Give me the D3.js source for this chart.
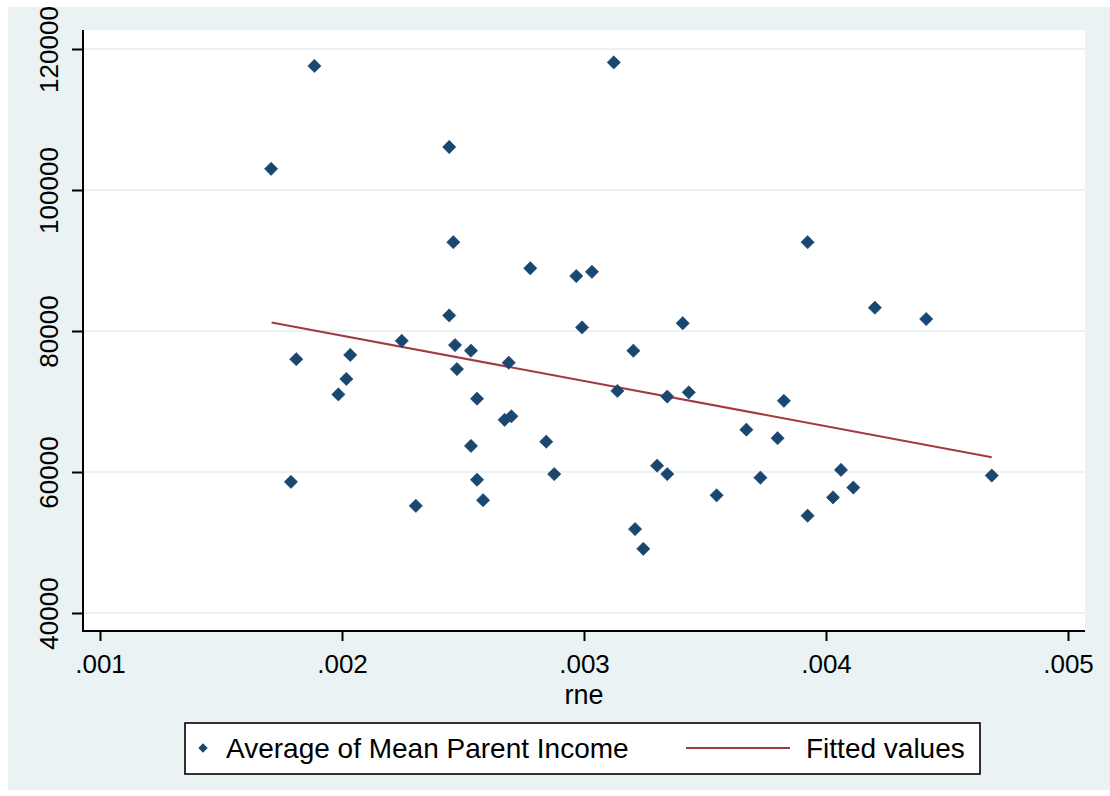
<!DOCTYPE html>
<html>
<head>
<meta charset="utf-8">
<script src="https://cdn.jsdelivr.net/npm/d3@7"></script>
<style>
  html, body { margin: 0; padding: 0; background: #ffffff; }
  svg { display: block; font-family: "Liberation Sans", Arial, sans-serif; }
</style>
</head>
<body>
<svg id="chart" width="1110" height="796"></svg>
<script>
// rne (x) for each state
const rne = [
  0.001886, 0.001707, 0.002443, 0.002460, 0.002443, 0.002247, 0.001811, 0.002034,
  0.002018, 0.001985, 0.002467, 0.002533, 0.002475, 0.002558, 0.002672, 0.002700,
  0.002533, 0.001789, 0.002558, 0.002305, 0.002583, 0.003123, 0.002778, 0.002968,
  0.003033, 0.002992, 0.003408, 0.003204, 0.002689, 0.003138, 0.003344, 0.003433,
  0.003671, 0.002844, 0.002877, 0.003302, 0.003344, 0.003548, 0.003211, 0.003245,
  0.003924, 0.004202, 0.004414, 0.003826, 0.003800, 0.003729, 0.004062, 0.004113,
  0.004029, 0.003924, 0.004685
];

// Average of Mean Parent Income for each state
const parentIncome = [
  117600, 103000, 106100, 92600, 82200, 78600, 76000, 76600,
  73200, 71000, 78000, 77200, 74600, 70400, 67400, 67900,
  63700, 58600, 58900, 55200, 56000, 118100, 88900, 87800,
  88400, 80500, 81100, 77200, 75500, 71500, 70700, 71300,
  66000, 64300, 59700, 60900, 59700, 56700, 51900, 49100,
  92600, 83300, 81700, 70100, 64800, 59200, 60300, 57800,
  56400, 53800, 59500
];

// Linear fit endpoints (fitted values at min and max rne)
const fitX = [0.001709, 0.004685];
const fitY = [81200, 62100];

const xTicks = [0.001, 0.002, 0.003, 0.004, 0.005];
const xTickLabels = [".001", ".002", ".003", ".004", ".005"];
const yTicks = [40000, 60000, 80000, 100000, 120000];
const yTickLabels = ["40000", "60000", "80000", "100000", "120000"];

const legendLabels = ["Average of Mean Parent Income", "Fitted values"];

const C = {
  bg: "#eaf2f3",
  grid: "#eaf2f3",
  marker: "#1a476f",
  fit: "#a23a41",
  axis: "#000000"
};

const svg = d3.select("#chart");

// outer graph region
svg.append("defs").append("clipPath").attr("id", "graphClip")
  .append("rect").attr("x", 8).attr("y", 7).attr("width", 1102).attr("height", 783);

const root = svg.append("g").attr("clip-path", "url(#graphClip)");
root.append("rect").attr("x", 8).attr("y", 7).attr("width", 1102).attr("height", 783)
  .attr("fill", C.bg);

// plot region
const plot = { left: 83, right: 1085, top: 30, bottom: 631 };
root.append("rect")
  .attr("x", plot.left).attr("y", plot.top)
  .attr("width", plot.right - plot.left).attr("height", plot.bottom - plot.top)
  .attr("fill", "#ffffff");

const x = d3.scaleLinear().domain([0.001, 0.005]).range([100, 1068]);
const y = d3.scaleLinear().domain([40000, 120000]).range([613, 49]);

// horizontal grid lines
root.append("g").selectAll("line").data(yTicks).join("line")
  .attr("x1", plot.left + 1).attr("x2", plot.right)
  .attr("y1", d => y(d)).attr("y2", d => y(d))
  .attr("stroke", C.grid).attr("stroke-width", 2);

// y axis
const yAxis = d3.axisLeft(y).tickValues(yTicks)
  .tickFormat((d, i) => yTickLabels[i]).tickSize(11).tickPadding(0);
const gy = root.append("g").attr("transform", `translate(${plot.left},0)`).call(yAxis);
gy.select(".domain").remove();
gy.selectAll(".tick line").attr("stroke", C.axis).attr("stroke-width", 2);
gy.selectAll(".tick text")
  .attr("transform", "rotate(-90)")
  .attr("x", 0).attr("y", -25)
  .attr("dy", 0)
  .attr("text-anchor", "middle")
  .attr("fill", "#000")
  .style("font-size", "26px");
root.append("line")
  .attr("x1", plot.left).attr("x2", plot.left)
  .attr("y1", plot.top).attr("y2", plot.bottom + 1)
  .attr("stroke", C.axis).attr("stroke-width", 2);

// x axis
const xAxis = d3.axisBottom(x).tickValues(xTicks)
  .tickFormat((d, i) => xTickLabels[i]).tickSize(10).tickPadding(0);
const gx = root.append("g").attr("transform", `translate(0,${plot.bottom})`).call(xAxis);
gx.select(".domain").remove();
gx.selectAll(".tick line").attr("stroke", C.axis).attr("stroke-width", 2);
gx.selectAll(".tick text")
  .attr("y", 42).attr("dy", 0)
  .attr("fill", "#000")
  .style("font-size", "26px");
root.append("line")
  .attr("x1", plot.left - 1).attr("x2", plot.right)
  .attr("y1", plot.bottom).attr("y2", plot.bottom)
  .attr("stroke", C.axis).attr("stroke-width", 2);

// x axis title
root.append("text")
  .attr("x", x(0.003)).attr("y", 704)
  .attr("text-anchor", "middle")
  .style("font-size", "27px")
  .text("rne");

// fitted line
const fitPts = fitX.map((v, i) => [v, fitY[i]]);
root.append("path")
  .datum(fitPts)
  .attr("d", d3.line().x(d => x(d[0])).y(d => y(d[1])))
  .attr("fill", "none")
  .attr("stroke", C.fit)
  .attr("stroke-width", 2);

// scatter markers
const diamond = d3.symbol().type(d3.symbolSquare).size(88);
const pts = rne.map((v, i) => [v, parentIncome[i]]);
root.append("g").selectAll("path").data(pts).join("path")
  .attr("d", diamond)
  .attr("transform", d => `translate(${x(d[0])},${y(d[1])}) rotate(45)`)
  .attr("fill", C.marker)
  .attr("stroke", C.marker)
  .attr("stroke-width", 0.6)
  .attr("stroke-linejoin", "round");

// legend
const lg = root.append("g");
lg.append("rect")
  .attr("x", 185).attr("y", 723).attr("width", 795).attr("height", 51)
  .attr("fill", "#ffffff").attr("stroke", "#000").attr("stroke-width", 1.6);
lg.append("path")
  .attr("d", d3.symbol().type(d3.symbolSquare).size(44))
  .attr("transform", "translate(203,748) rotate(45)")
  .attr("fill", C.marker);
lg.append("text")
  .attr("x", 226).attr("y", 758)
  .style("font-size", "28px")
  .text(legendLabels[0]);
lg.append("line")
  .attr("x1", 686).attr("x2", 790).attr("y1", 748).attr("y2", 748)
  .attr("stroke", C.fit).attr("stroke-width", 2);
lg.append("text")
  .attr("x", 806).attr("y", 758)
  .style("font-size", "28px")
  .text(legendLabels[1]);
</script>
</body>
</html>
